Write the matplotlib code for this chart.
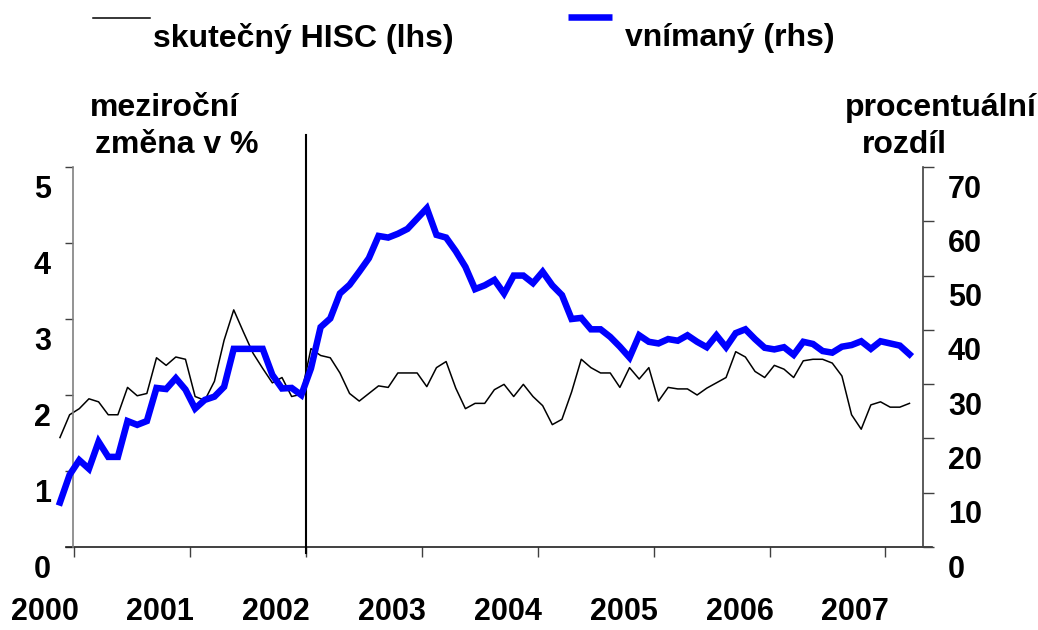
import numpy as np
import matplotlib
matplotlib.use("Agg")
import matplotlib.pyplot as plt
import matplotlib.transforms as mtrans

plt.rcParams['font.family'] = ['Liberation Sans', 'DejaVu Sans']
plt.rcParams['font.weight'] = 'bold'

# monthly data, first point Nov 1999 .. Mar 2007
hisc = [1.44, 1.74, 1.82, 1.95, 1.91, 1.74, 1.74, 2.10, 1.99, 2.02,
        2.49, 2.39, 2.50, 2.47, 1.98, 1.93, 2.18, 2.72, 3.12, 2.83,
        2.55, 2.35, 2.16, 2.23, 1.98, 2.01, 2.61, 2.52, 2.49, 2.29,
        2.02, 1.92, 2.02, 2.12, 2.10, 2.29, 2.29, 2.29, 2.11, 2.36,
        2.44, 2.09, 1.82, 1.89, 1.89, 2.07, 2.14, 1.98, 2.14, 1.98,
        1.86, 1.61, 1.68, 2.04, 2.47, 2.36, 2.29, 2.29, 2.10, 2.36,
        2.21, 2.36, 1.92, 2.10, 2.08, 2.08, 2.00, 2.09, 2.16, 2.23,
        2.57, 2.50, 2.31, 2.23, 2.39, 2.34, 2.23, 2.45, 2.47, 2.47,
        2.42, 2.25, 1.74, 1.55, 1.87, 1.91, 1.84, 1.84, 1.89]

vnimany = [8.2, 13.3, 16.0, 14.4, 19.4, 16.6, 16.6, 23.2, 22.5, 23.2,
           29.3, 29.1, 31.1, 29.0, 25.5, 27.1, 27.7, 29.5, 36.5, 36.5,
           36.5, 36.5, 31.7, 29.2, 29.3, 28.0, 32.9, 40.5, 42.1, 46.7,
           48.3, 50.7, 53.2, 57.3, 57.0, 57.7, 58.6, 60.5, 62.4, 57.5,
           57.0, 54.5, 51.6, 47.5, 48.2, 49.2, 46.7, 50.0, 50.0, 48.6,
           50.7, 48.2, 46.4, 42.0, 42.2, 40.1, 40.1, 38.7, 36.9, 34.9,
           39.0, 37.8, 37.5, 38.3, 38.0, 39.0, 37.8, 36.8, 39.0, 36.8,
           39.4, 40.1, 38.3, 36.7, 36.4, 36.8, 35.4, 37.8, 37.4, 36.1,
           35.8, 36.9, 37.2, 37.9, 36.5, 37.9, 37.5, 37.1, 35.5]

years = ['2000', '2001', '2002', '2003', '2004', '2005', '2006', '2007']
left_ticks = [0, 1, 2, 3, 4, 5]
right_ticks = [0, 10, 20, 30, 40, 50, 60, 70]

x = np.arange(len(hisc))
year_pos = [1.5 + 12 * k for k in range(len(years))]

fig = plt.figure(figsize=(10.38, 6.3), dpi=100)
ax = fig.add_axes([73 / 1038, 83 / 630, 850 / 1038, 380 / 630])
ax2 = ax.twinx()

ax.plot(x, hisc, color='black', lw=1.1, clip_on=False)
ax2.plot(x, vnimany, color='#0000ff', lw=4.7, clip_on=False,
         solid_joinstyle='miter')

ax.set_xlim(1.35, 89.4)
ax.set_ylim(0, 5)
ax2.set_ylim(0, 70)

for a in (ax, ax2):
    a.spines['top'].set_visible(False)
    a.spines['bottom'].set_visible(False)
ax2.spines['left'].set_visible(False)
ax.spines['right'].set_visible(False)
ax.spines['left'].set_color('#808080')
ax.spines['left'].set_linewidth(1.2)
ax2.spines['right'].set_color('#404040')
ax2.spines['right'].set_linewidth(1.2)

# bottom axis line runs past both vertical axes
ax.plot([-0.008, 1.011], [0, 0], transform=ax.transAxes, color='#202020',
        lw=1.2, clip_on=False)
# vertical marker at 2002
vtr = mtrans.blended_transform_factory(ax.transData, ax.transAxes)
ax.plot([year_pos[2], year_pos[2]], [-0.016, 1.084], transform=vtr,
        color='black', lw=1.5, clip_on=False)

ax.set_yticks(left_ticks)
ax.set_yticklabels([str(v) for v in left_ticks])
ax2.set_yticks(right_ticks)
ax2.set_yticklabels([str(v) for v in right_ticks])
ax.set_xticks(year_pos)
ax.set_xticklabels(years)

ax.tick_params(axis='y', direction='out', length=6, width=1, color='#404040',
               labelsize=22, pad=10)
ax2.tick_params(axis='y', direction='out', length=8, width=1, color='#404040',
                labelsize=22, pad=10)
ax.tick_params(axis='x', direction='out', length=7, width=1, color='#404040',
               labelsize=22, pad=29)

down = mtrans.ScaledTranslation(0, -0.19, fig.dpi_scale_trans)
for lab in ax.get_yticklabels() + ax2.get_yticklabels():
    lab.set_transform(lab.get_transform() + down)
    lab.set_fontweight('bold')
left_shift = mtrans.ScaledTranslation(-0.30, 0, fig.dpi_scale_trans)
for lab in ax.get_xticklabels():
    lab.set_transform(lab.get_transform() + left_shift)
    lab.set_fontweight('bold')

# axis titles
fig.text(90 / 1038, 1 - 108 / 630, 'meziroční', fontsize=23, ha='left', va='center')
fig.text(95 / 1038, 1 - 145 / 630, 'změna v %', fontsize=23, ha='left', va='center')
fig.text(845 / 1038, 1 - 108 / 630, 'procentuální', fontsize=23, ha='left', va='center')
fig.text(862 / 1038, 1 - 145 / 630, 'rozdíl', fontsize=23, ha='left', va='center')

# legend
fig.add_artist(plt.Line2D([93 / 1038, 150 / 1038], [1 - 18 / 630, 1 - 18 / 630],
                          color='black', lw=1.1))
fig.text(153 / 1038, 1 - 38 / 630, 'skutečný HISC (lhs)', fontsize=23,
         ha='left', va='center')
fig.add_artist(plt.Line2D([568 / 1038, 612 / 1038], [1 - 17 / 630, 1 - 17 / 630],
                          color='#0000ff', lw=4.7, solid_capstyle='butt'))
fig.text(625 / 1038, 1 - 38 / 630, 'vnímaný (rhs)', fontsize=23,
         ha='left', va='center')

fig.savefig('out.png', dpi=100)
